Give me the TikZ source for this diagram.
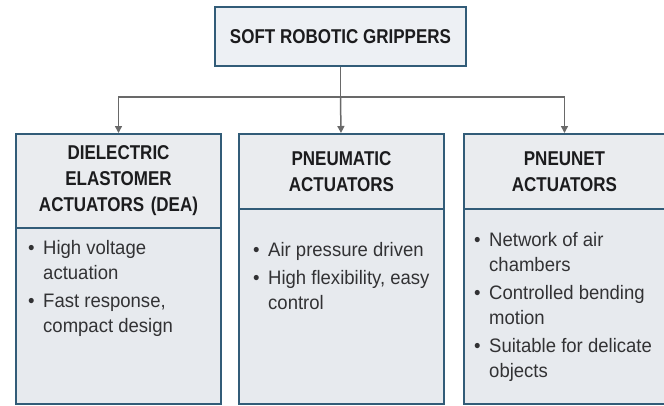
\documentclass[tikz,border=0pt]{standalone}
\usepackage{fontspec}
\setmainfont{Liberation Sans}
\newfontfamily\hdfont[FakeStretch=0.85]{Liberation Sans}
\newfontfamily\bdfont[FakeStretch=0.95]{Liberation Sans}
\usetikzlibrary{arrows.meta,calc}
\definecolor{bord}{RGB}{50,92,120}
\definecolor{boxfill}{RGB}{231,234,238}
\definecolor{hdfill}{RGB}{234,236,239}
\definecolor{topfill}{RGB}{237,240,244}
\definecolor{hdtext}{RGB}{28,28,30}
\definecolor{bdtext}{RGB}{50,50,52}
\definecolor{conncol}{RGB}{105,105,105}
\newcommand\bul{\makebox[15pt][l]{\textbullet}}
\newcommand\hng{\hspace*{15pt}}
\begin{document}
\begin{tikzpicture}[x=1pt,y=-1pt,
  box/.style={draw=bord,line width=2pt,fill=boxfill,inner sep=0pt},
  hdr/.style={box,fill=hdfill,anchor=north west,align=center,text width=195pt,minimum width=205pt,
    font=\hdfont\bfseries\fontsize{20}{26}\selectfont,text=hdtext},
  bodybox/.style={box,anchor=north west,minimum width=205pt},
  btxt/.style={anchor=north west,inner sep=0pt,align=left,text=bdtext,
    font=\bdfont\fontsize{19.5}{25}\selectfont},
  conn/.style={draw=conncol,line width=1.5pt},
  arr/.style={conn,-{Triangle[width=7pt,length=7pt]}}
]
\useasboundingbox (0,0) rectangle (664,405);

% top node
\node[box,fill=topfill,minimum width=251pt,minimum height=59pt,
  font=\hdfont\bfseries\fontsize{20}{26}\selectfont,text=hdtext] (top) at (340.5,36.5) {SOFT ROBOTIC GRIPPERS};

% body boxes
\node[bodybox,minimum height=176pt] (b1) at (15,227) {};
\node[bodybox,minimum height=195pt] (b2) at (238,208) {};
\node[bodybox,minimum height=195pt,minimum width=201pt] (b3) at (463,208) {};

% header boxes
\node[hdr,minimum height=94pt] (h1) at (15,133) {DIELECTRIC\\ELASTOMER\\ACTUATORS (DEA)};
\node[hdr,minimum height=75pt] (h2) at (238,133) {PNEUMATIC\\ACTUATORS};
\node[hdr,minimum height=75pt,minimum width=201pt,text width=191pt] (h3) at (463,133) {PNEUNET\\ACTUATORS};

% body texts
\node[btxt] (t1) at ($(b1.north west)+(13,9.5)$)
  {\strut\bul High voltage\\\hng actuation\\[3pt]\bul Fast response,\\\hng compact design};
\node[btxt] (t2) at ($(b2.north west)+(15,30.5)$)
  {\strut\bul Air pressure driven\\[3pt]\bul High flexibility, easy\\\hng control};
\node[btxt] (t3) at ($(b3.north west)+(11,20.5)$)
  {\strut\bul Network of air\\\hng chambers\\[3pt]\bul Controlled bending\\\hng motion\\[3pt]\bul Suitable for delicate\\\hng objects};

% connectors
\coordinate (jn) at (340.5,97);
\draw[conn] (top) -- (jn);
\draw[arr] (jn) -| (h1);
\draw[arr] (jn) -- (h2);
\draw[arr] (jn) -| (h3);
\end{tikzpicture}
\end{document}
